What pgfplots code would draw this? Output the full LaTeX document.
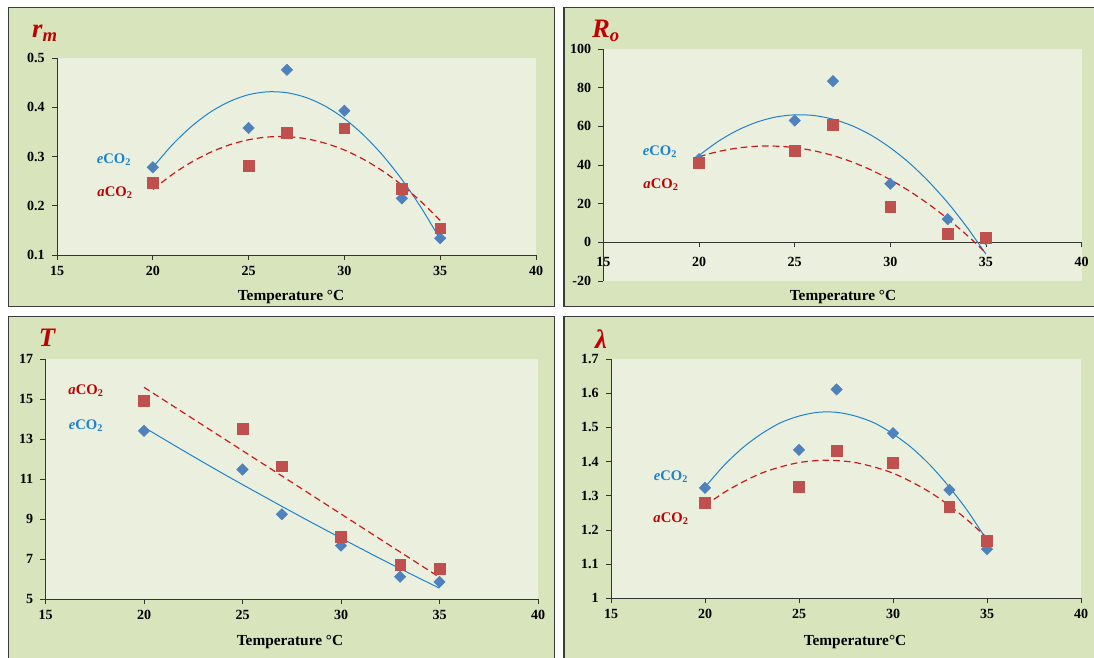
\documentclass[border=0pt]{standalone}
\usepackage{fontspec}
\setmainfont{Liberation Serif}
\usepackage{pgfplots}
\pgfplotsset{compat=1.18}
\definecolor{panelbg}{RGB}{216,228,188}
\definecolor{plotbg}{RGB}{235,240,222}
\definecolor{serblue}{RGB}{79,129,189}
\definecolor{serred}{RGB}{192,80,77}
\definecolor{trblue}{RGB}{30,130,205}
\definecolor{trred}{RGB}{205,25,25}
\definecolor{titlered}{RGB}{192,0,0}
\definecolor{framegray}{RGB}{60,60,60}
\pgfplotsset{
 panel/.style={scale only axis, anchor=south west, xmin=15, xmax=40, xtick={15,20,...,40},
  axis background/.style={fill=plotbg},
  axis x line*=bottom, axis y line*=left,
  axis line style={black!80, line width=0.6pt},
  tick align=outside, major tick length=3.75pt, tick style={black!80, line width=0.6pt},
  ticklabel style={font=\fontsize{10.5}{11}\selectfont\bfseries},
  xticklabel style={yshift=-1pt},
  yticklabel style={xshift=-2pt},
  /pgf/number format/assume math mode=true,
  clip=false},
 eser/.style={only marks, mark=square*, mark size=3.0pt, mark options={rotate=45, fill=serblue, draw=serblue}},
 aser/.style={only marks, mark=square*, mark size=4.0pt, mark options={fill=serred, draw=serred}},
 etr/.style={no marks, smooth, trblue, line width=0.75pt},
 atr/.style={no marks, smooth, trred, line width=0.9pt, dash pattern=on 5pt off 3pt},
}
\tikzset{
 ttl/.style={titlered, font=\fontsize{20}{20}\selectfont\bfseries\itshape},
 elab/.style={trblue, font=\fontsize{11}{12}\selectfont\bfseries},
 alab/.style={titlered, font=\fontsize{11}{12}\selectfont\bfseries},
 xlab/.style={font=\fontsize{11.5}{12}\selectfont\bfseries},
}
\begin{document}
\begin{tikzpicture}
\path[use as bounding box] (0,0) rectangle (820.5pt,492.75pt);
\fill[white] (0,0) rectangle (820.5pt,492.75pt);
\begin{scope}
\clip (0,0) rectangle (820.5pt,492.75pt);
\filldraw[fill=panelbg, draw=framegray, line width=0.9pt] (6.225pt,262.7pt) rectangle (416pt,487.3pt);
\filldraw[fill=panelbg, draw=framegray, line width=0.9pt] (423pt,262.7pt) rectangle (830pt,487.3pt);
\filldraw[fill=panelbg, draw=framegray, line width=0.9pt] (6.225pt,-10pt) rectangle (416pt,255.2pt);
\filldraw[fill=panelbg, draw=framegray, line width=0.9pt] (423pt,-10pt) rectangle (830pt,255.2pt);
\end{scope}

% Panel 1: r_m
\begin{axis}[panel, at={(42.75pt,301.5pt)}, width=359.25pt, height=147.75pt,
  ymin=0.1, ymax=0.5, ytick={0.1,0.2,0.3,0.4,0.5}]
\addplot[eser] coordinates {(20,0.278)(25,0.358)(27,0.476)(30,0.393)(33,0.215)(35,0.134)};
\addplot[aser] coordinates {(20,0.246)(25,0.281)(27,0.348)(30,0.357)(33,0.235)(35,0.154)};
\addplot[etr] coordinates {(20,0.2778)(21,0.3230)(22,0.3604)(23,0.3900)(24,0.4116)(25,0.4255)(26,0.4314)(27,0.4295)(28,0.4198)(29,0.4022)(30,0.3768)(31,0.3435)(32,0.3023)(33,0.2533)(34,0.1964)(35,0.1317)};
\addplot[atr] coordinates {(20,0.2330)(21,0.2630)(22,0.2881)(23,0.3083)(24,0.3236)(25,0.3340)(26,0.3396)(27,0.3403)(28,0.3361)(29,0.3270)(30,0.3131)(31,0.2942)(32,0.2705)(33,0.2419)(34,0.2084)(35,0.1701)};
\end{axis}

% Panel 2: R_o
\begin{axis}[panel, at={(452.55pt,282pt)}, width=358.65pt, height=174pt,
  axis x line*=middle, hide obscured x ticks=false, hide obscured y ticks=false,
  ymin=-20, ymax=100, ytick={-20,0,20,40,60,80,100},
  xticklabel style={anchor=north, yshift=-3pt}]
\addplot[eser] coordinates {(20,43)(25,63.0)(27,83.4)(30,30.3)(33,12.0)(35,1.5)};
\addplot[aser] coordinates {(20,41.0)(25,47.5)(27,60.8)(30,18.3)(33,4.5)(35,2.2)};
\addplot[etr] coordinates {(20,44.97)(21,52.2)(22,57.9)(23,62.1)(24,64.8)(25,65.95)(26,65.6)(27,63.7)(28,60.3)(29,55.4)(30,48.9)(31,41.0)(32,31.5)(33,20.5)(34,7.9)(35,-6.1)};
\addplot[atr] coordinates {(20,44.31)(21,46.95)(22,48.74)(23,49.68)(24,49.76)(25,49.0)(26,47.38)(27,44.91)(28,41.58)(29,37.41)(30,32.38)(31,26.5)(32,19.77)(33,12.19)(34,3.75)(35,-5.53)};
\end{axis}

% Panel 3: T
\begin{axis}[panel, at={(34.125pt,43.275pt)}, width=369.375pt, height=180pt,
  ymin=5, ymax=17, ytick={5,7,9,11,13,15,17}]
\addplot[eser] coordinates {(20,13.42)(25,11.49)(27,9.25)(30,7.68)(33,6.13)(35,5.87)};
\addplot[aser] coordinates {(20,14.92)(25,13.53)(27,11.65)(30,8.13)(33,6.73)(35,6.52)};
\addplot[etr] coordinates {(20,13.6)(22,12.43)(24,11.29)(26,10.19)(28,9.11)(30,8.06)(32,7.03)(34,6.04)(35,5.56)};
\addplot[atr] coordinates {(20,15.6)(35,6.1)};
\end{axis}

% Panel 4: lambda
\begin{axis}[panel, at={(458.25pt,44.025pt)}, width=352.5pt, height=179.5pt,
  ymin=1, ymax=1.7, ytick={1,1.1,1.2,1.3,1.4,1.5,1.6,1.7}]
\addplot[eser] coordinates {(20,1.323)(25,1.434)(27,1.611)(30,1.483)(33,1.317)(35,1.144)};
\addplot[aser] coordinates {(20,1.280)(25,1.326)(27,1.431)(30,1.397)(33,1.268)(35,1.168)};
\addplot[etr] coordinates {(20,1.325)(21,1.388)(22,1.440)(23,1.481)(24,1.513)(25,1.533)(26,1.544)(27,1.544)(28,1.533)(29,1.513)(30,1.481)(31,1.440)(32,1.388)(33,1.325)(34,1.253)(35,1.169)};
\addplot[atr] coordinates {(20,1.271)(21,1.309)(22,1.340)(23,1.366)(24,1.384)(25,1.397)(26,1.403)(27,1.403)(28,1.397)(29,1.384)(30,1.366)(31,1.340)(32,1.309)(33,1.271)(34,1.227)(35,1.177)};
\end{axis}

% titles
\node[ttl] at (33.75pt,468pt) {r\textsubscript{m}};
\node[ttl] at (454.5pt,469.5pt) {R\textsubscript{o}};
\node[ttl] at (35.25pt,239.25pt) {T};
\node[ttl] at (450.75pt,238.5pt) {λ};

% series labels
\node[elab] at (85.5pt,372.75pt) {\textit{e}CO\textsubscript{2}};
\node[alab] at (86.25pt,348pt) {\textit{a}CO\textsubscript{2}};
\node[elab] at (495pt,378.75pt) {\textit{e}CO\textsubscript{2}};
\node[alab] at (495.75pt,354pt) {\textit{a}CO\textsubscript{2}};
\node[alab] at (64.5pt,199.5pt) {\textit{a}CO\textsubscript{2}};
\node[elab] at (64.5pt,173.25pt) {\textit{e}CO\textsubscript{2}};
\node[elab] at (503.25pt,135pt) {\textit{e}CO\textsubscript{2}};
\node[alab] at (503.25pt,103.5pt) {\textit{a}CO\textsubscript{2}};

% x labels
\node[xlab] at (218.25pt,270pt) {Temperature °C};
\node[xlab] at (632.25pt,270pt) {Temperature °C};
\node[xlab] at (217.5pt,11.25pt) {Temperature °C};
\node[xlab] at (641.25pt,11.25pt) {Temperature°C};
\end{tikzpicture}
\end{document}
